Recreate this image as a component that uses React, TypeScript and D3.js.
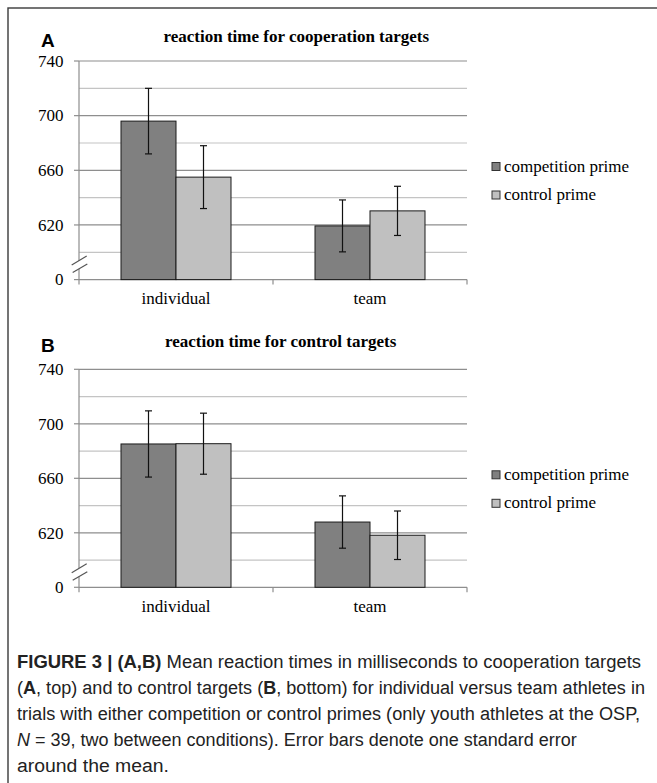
import React from 'react';
import * as d3 from 'd3';

const categories = ['individual', 'team'];
const seriesNames = ['competition prime', 'control prime'];
const seriesColors = ['#808080', '#c0c0c0'];
const tickValues = [580, 620, 660, 700, 740];
const tickLabels = ['0', '620', '660', '700', '740'];
const gridValues = [600, 620, 640, 660, 680, 700, 720, 740];
const majorGrid = [620, 660, 700, 740];

const panelATitle = 'reaction time for cooperation targets';
const panelACompetition = [696, 619.3];
const panelAControl = [655, 630.3];
const panelACompetitionSE = [24, 19];
const panelAControlSE = [23, 18];

const panelBTitle = 'reaction time for control targets';
const panelBCompetition = [685.2, 627.9];
const panelBControl = [685.4, 618.2];
const panelBCompetitionSE = [24.3, 19.2];
const panelBControlSE = [22.4, 17.8];

const captionLines: { text: string; w?: string; s?: string }[][] = [
  [{ text: 'FIGURE 3 | (A,B)', w: 'bold' }, { text: ' Mean reaction times in milliseconds to cooperation targets' }],
  [{ text: '(' }, { text: 'A', w: 'bold' }, { text: ', top) and to control targets (' }, { text: 'B', w: 'bold' }, { text: ', bottom) for individual versus team athletes in' }],
  [{ text: 'trials with either competition or control primes (only youth athletes at the OSP,' }],
  [{ text: 'N', s: 'italic' }, { text: ' = 39, two between conditions). Error bars denote one standard error' }],
  [{ text: 'around the mean.' }],
];
const captionWidths = [624, 628, 623, 0, 152];

const X0 = 79;
const X1 = 467;

type PanelProps = {
  letter: string;
  title: string;
  comp: number[];
  ctrl: number[];
  compSE: number[];
  ctrlSE: number[];
  top: number;
  base: number;
  titleX: number;
  titleY: number;
  letterY: number;
};

function Panel(p: PanelProps) {
  const y = d3.scaleLinear().domain([580, 740]).range([p.base, p.top]);
  const xb = d3.scaleBand().domain(categories).range([X0, X1]).padding(0);
  const bw = xb.bandwidth();
  const xi = d3.scaleBand().domain(seriesNames).range([bw * 0.2165, bw * 0.7835]).padding(0);
  const series = [
    { name: seriesNames[0], vals: p.comp, se: p.compSE, color: seriesColors[0] },
    { name: seriesNames[1], vals: p.ctrl, se: p.ctrlSE, color: seriesColors[1] },
  ];
  const base = y(580);
  return (
    <g>
      <text x={41} y={p.letterY} fontFamily="Liberation Sans, Arial, sans-serif" fontWeight="bold" fontSize={19}>{p.letter}</text>
      <text x={p.titleX} y={p.titleY} fontFamily="Liberation Serif, Times New Roman, serif" fontWeight="bold" fontSize={17}>{p.title}</text>
      {gridValues.map((v) => (
        <line key={v} x1={X0} x2={X1} y1={y(v)} y2={y(v)} stroke={majorGrid.includes(v) ? '#8e8e8e' : '#c4c4c4'} strokeWidth={1.2} />
      ))}
      <line x1={X0} x2={X0} y1={y(740)} y2={base} stroke="#8e8e8e" strokeWidth={1.2} />
      <line x1={X0} x2={X1} y1={base} y2={base} stroke="#8e8e8e" strokeWidth={1.2} />
      {[X0, X0 + bw, X1].map((x, i) => (
        <line key={i} x1={x} x2={x} y1={base} y2={base + 5} stroke="#8e8e8e" strokeWidth={1.2} />
      ))}
      {tickValues.map((v, i) => (
        <g key={v}>
          <line x1={X0 - 5} x2={X0} y1={y(v)} y2={y(v)} stroke="#8e8e8e" strokeWidth={1.2} />
          <text x={63.5} y={y(v) + 5.7} textAnchor="end" fontFamily="Liberation Serif, Times New Roman, serif" fontSize={17}>{tickLabels[i]}</text>
        </g>
      ))}
      <polygon
        points={`${71.7},${base - 14.6} ${86.7},${base - 23.6} ${87.3},${base - 15.6} ${72.7},${base - 7}`}
        fill="#fff"
      />
      <line x1={71.7} y1={base - 14.6} x2={86.7} y2={base - 23.6} stroke="#555" strokeWidth={1.2} />
      <line x1={72.7} y1={base - 7} x2={87.3} y2={base - 15.6} stroke="#555" strokeWidth={1.2} />
      {categories.map((c, ci) =>
        series.map((s) => {
          const x = (xb(c) as number) + (xi(s.name) as number);
          const w = xi.bandwidth();
          const v = s.vals[ci];
          const e = s.se[ci];
          const cx = x + w / 2;
          return (
            <g key={c + s.name}>
              <rect x={x} y={y(v)} width={w} height={base - y(v)} fill={s.color} stroke="#1a1a1a" strokeWidth={1} />
              <line x1={cx} x2={cx} y1={y(v + e)} y2={y(v - e)} stroke="#111" strokeWidth={1.2} />
              <line x1={cx - 3.5} x2={cx + 3.5} y1={y(v + e)} y2={y(v + e)} stroke="#111" strokeWidth={1.2} />
              <line x1={cx - 3.5} x2={cx + 3.5} y1={y(v - e)} y2={y(v - e)} stroke="#111" strokeWidth={1.2} />
            </g>
          );
        })
      )}
      {categories.map((c) => (
        <text key={c} x={(xb(c) as number) + bw / 2} y={base + 24.5} textAnchor="middle" fontFamily="Liberation Serif, Times New Roman, serif" fontSize={17}>{c}</text>
      ))}
      {series.map((s, i) => (
        <g key={s.name}>
          <rect x={492} y={p.top + 101.5 + i * 28.5} width={8} height={8} fill={s.color} stroke="#333" strokeWidth={1} />
          <text x={504} y={p.top + 110.5 + i * 28.5} fontFamily="Liberation Serif, Times New Roman, serif" fontSize={17}>{s.name}</text>
        </g>
      ))}
    </g>
  );
}

export default function App() {
  const captionY = [668, 694, 720, 746, 772];
  return (
    <svg width={657} height={783} style={{ position: 'absolute', left: 0, top: 0, background: '#fff' }}>
      <rect x={0} y={0} width={657} height={783} fill="#fff" />
      <rect x={8} y={8} width={700} height={800} fill="none" stroke="#3a3a3a" strokeWidth={1.4} />
      <Panel letter="A" title={panelATitle} comp={panelACompetition} ctrl={panelAControl} compSE={panelACompetitionSE} ctrlSE={panelAControlSE}
        top={61} base={279.6} titleX={163.5} titleY={41.5} letterY={46.7} />
      <Panel letter="B" title={panelBTitle} comp={panelBCompetition} ctrl={panelBControl} compSE={panelBCompetitionSE} ctrlSE={panelBControlSE}
        top={369.3} base={587.3} titleX={165} titleY={347} letterY={351.7} />
      {captionLines.map((line, li) => (
        <text key={li} x={17} y={captionY[li]} fontFamily="Liberation Sans, Arial, sans-serif" fontSize={18} fill="#222"
          {...(captionWidths[li] ? { textLength: captionWidths[li], lengthAdjust: 'spacingAndGlyphs' } : {})}>
          {line.map((seg, si) => (
            <tspan key={si} fontWeight={seg.w || 'normal'} fontStyle={seg.s || 'normal'}>{seg.text}</tspan>
          ))}
        </text>
      ))}
    </svg>
  );
}
